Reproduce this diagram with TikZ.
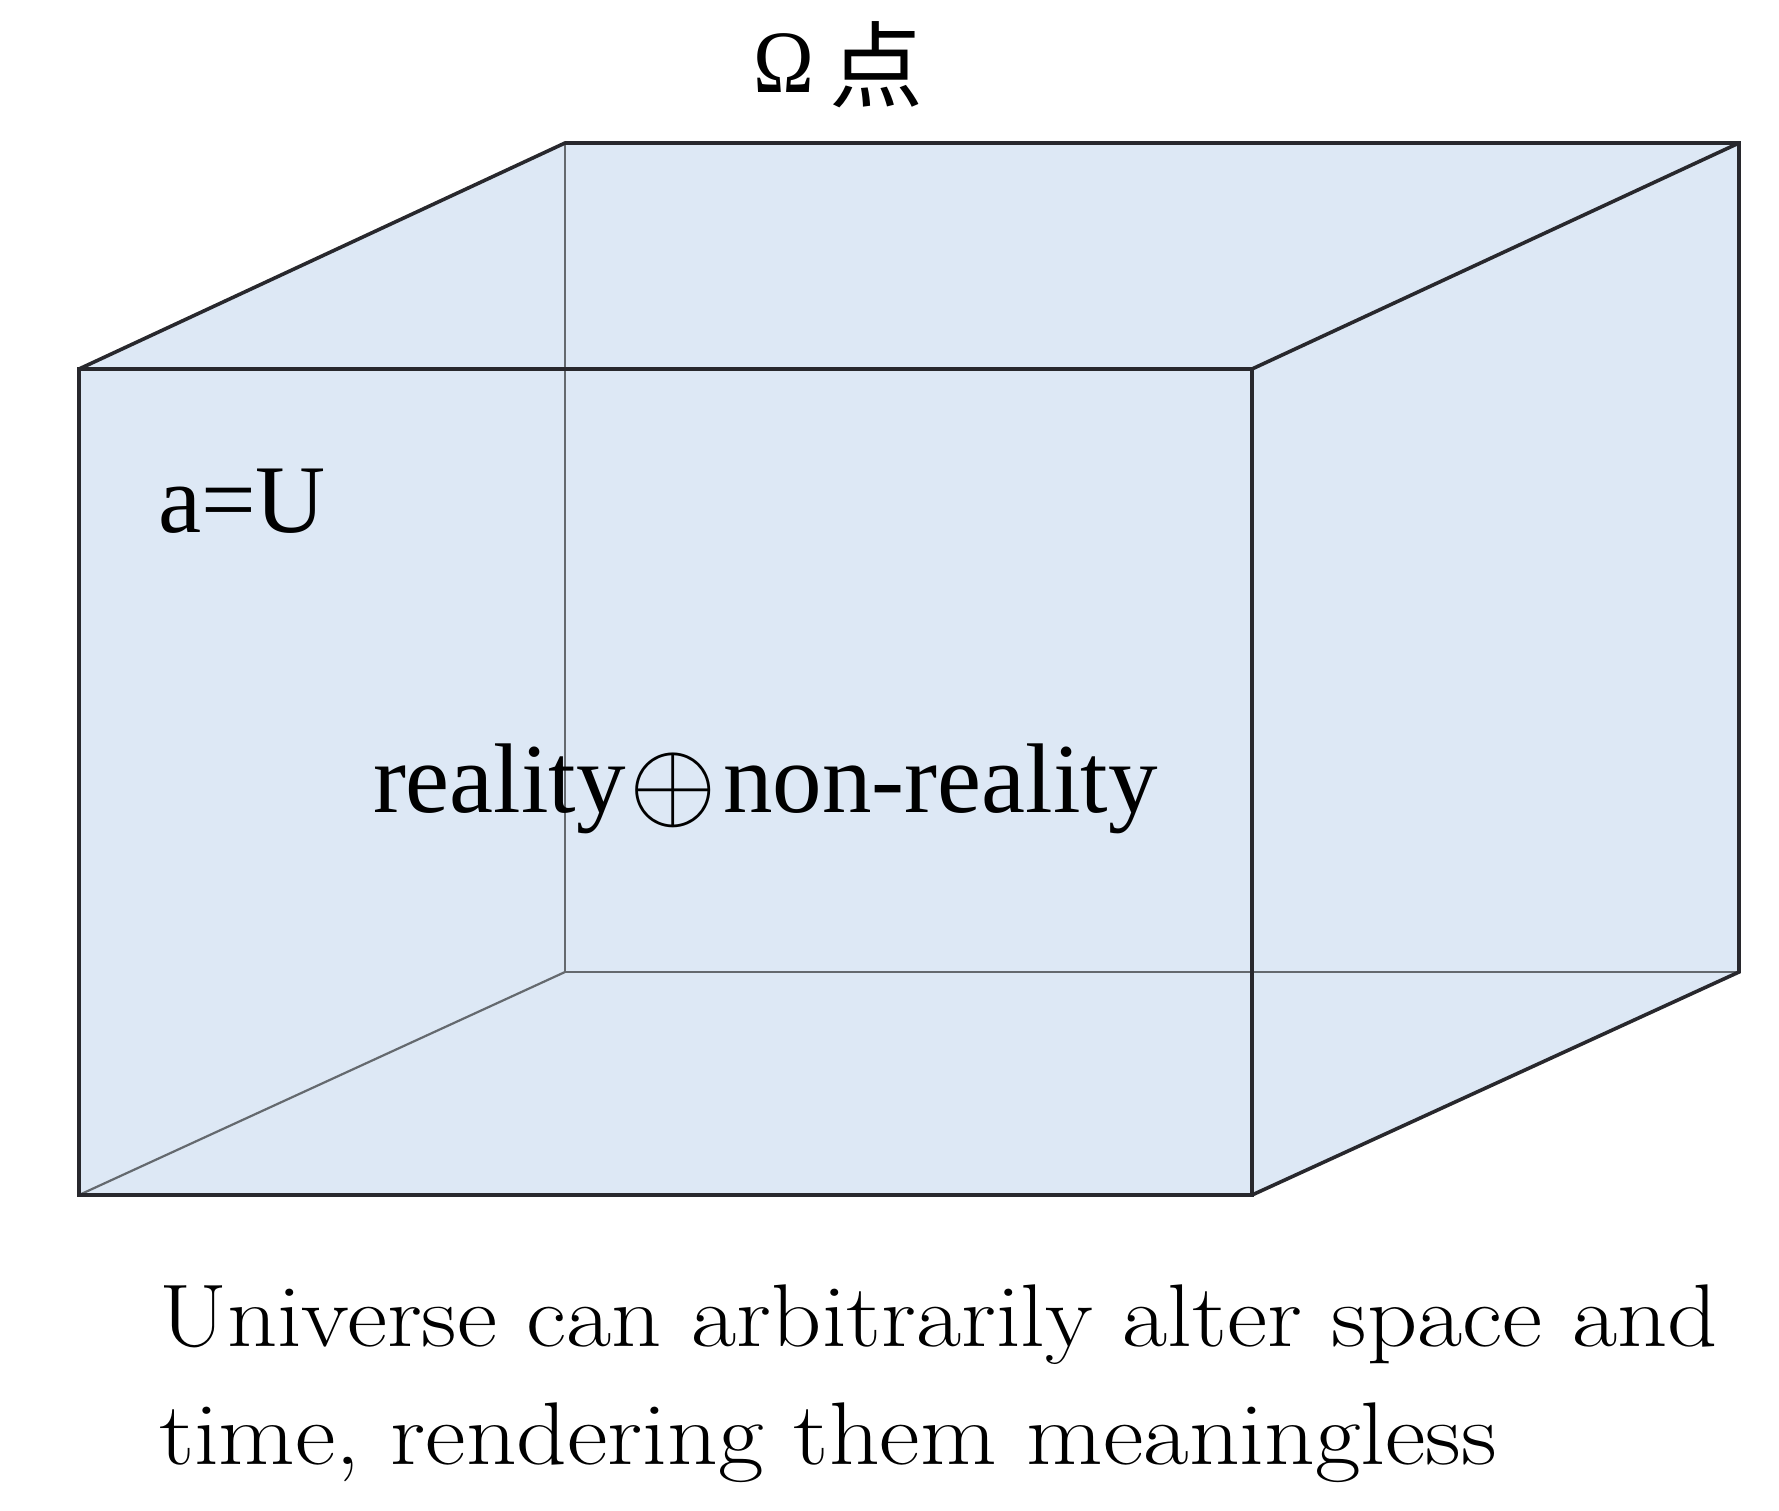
\documentclass[tikz,border=0pt]{standalone}
\usepackage{fontspec}
\newfontfamily\timesf{Liberation Serif}
\newfontfamily\cjk{Noto Sans CJK SC}
\definecolor{cubefill}{RGB}{221,232,245}
\definecolor{edgedark}{RGB}{40,40,45}
\definecolor{edgegray}{RGB}{100,105,110}
\begin{document}
\begin{tikzpicture}[x=1pt,y=-1pt,
  front/.style={draw=edgedark,line width=3.6pt,line join=miter},
  hidden/.style={draw=edgegray,line width=2.2pt},
  lbl/.style={inner sep=0pt,outer sep=0pt,anchor=base west}]
\useasboundingbox (0,0) rectangle (1779,1510);
% corners
\coordinate (fTL) at (79,369);
\coordinate (fTR) at (1252,369);
\coordinate (fBL) at (79,1195);
\coordinate (fBR) at (1252,1195);
\coordinate (bTL) at (565,143);
\coordinate (bTR) at (1739,143);
\coordinate (bBL) at (565,972);
\coordinate (bBR) at (1739,972);
% fill
\fill[cubefill] (fTL) -- (bTL) -- (bTR) -- (bBR) -- (fBR) -- (fBL) -- cycle;
% hidden edges
\draw[hidden] (bTL) -- (bBL);
\draw[hidden] (bBL) -- (bBR);
\draw[hidden] (bBL) -- (fBL);
% visible edges
\draw[front] (fTL) rectangle (fBR);
\draw[front] (fTL) -- (bTL) -- (bTR) -- (bBR) -- (fBR);
\draw[front] (fTR) -- (bTR);
% texts
\node[lbl] (omega) at (753,92) {{\timesf\fontsize{89}{89}\selectfont\scalebox{0.92}[1]{Ω}}\hspace{16pt}{\cjk\fontsize{94}{94}\selectfont\raisebox{-8pt}{点}}};
\node[lbl] (aU) at (158,532) {\timesf\fontsize{97}{97}\selectfont a=U};
\node[lbl] (real) at (373,812) {\timesf\fontsize{99}{99}\selectfont reality\hspace{4pt}\raisebox{-6pt}{\scalebox{4.52}{$\oplus$}}\hspace{6pt}non-reality};
\node[lbl] (cap1) at (159,1346) {\scalebox{1.105}[1]{\fontsize{89}{89}\selectfont Universe can arbitrarily alter space and}};
\node[lbl] (cap2) at (159,1464) {\scalebox{1.115}[1]{\fontsize{89}{89}\selectfont time, rendering them meaningless}};
\end{tikzpicture}
\end{document}
